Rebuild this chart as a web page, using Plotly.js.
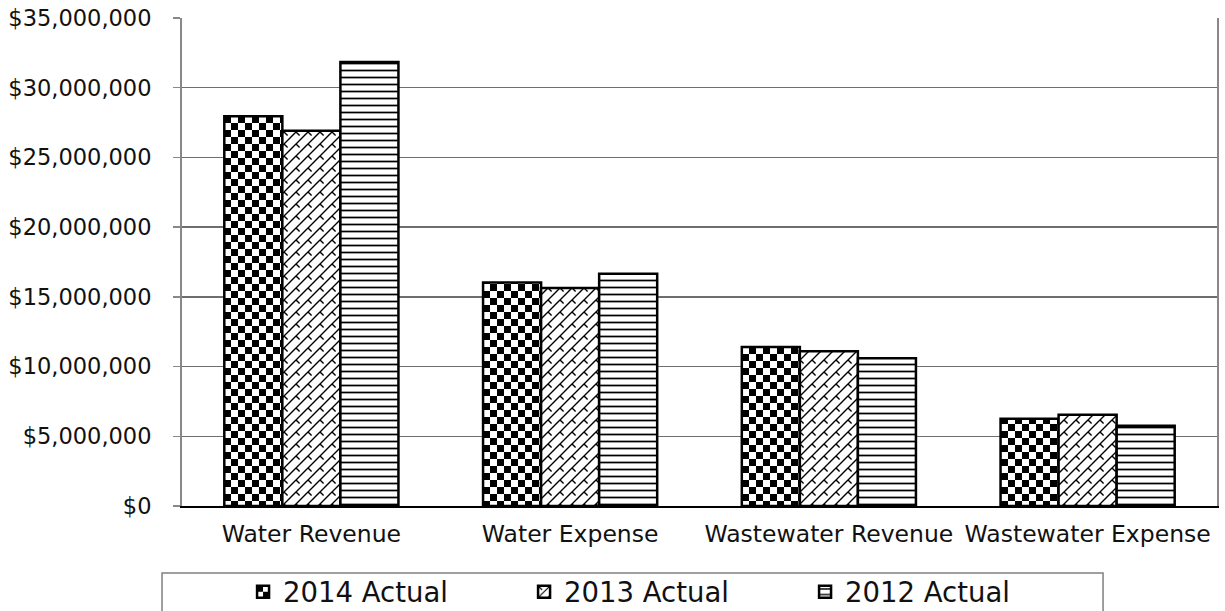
<!DOCTYPE html>
<html><head><meta charset="utf-8">
<script src="https://cdn.plot.ly/plotly-3.0.1.min.js"></script>
<style>html,body{margin:0;padding:0;background:#fff;} #chart{width:1225px;height:611px;}</style>
</head><body><div id="chart"></div>
<script>
const categories = ['Water Revenue', 'Water Expense', 'Wastewater Revenue', 'Wastewater Expense'];
const seriesNames = ['2014 Actual', '2013 Actual', '2012 Actual'];
const actual2014 = [27950000, 16030000, 11400000, 6250000];
const actual2013 = [26920000, 15630000, 11100000, 6550000];
const actual2012 = [31850000, 16650000, 10600000, 5750000];

const FONT = 'DejaVu Sans, Liberation Sans, Arial, sans-serif';
const outline = {color: '#000', width: 2.5};

const traces = [
  {type: 'bar', name: seriesNames[0], x: categories, y: actual2014,
   marker: {color: '#fff', line: outline,
            pattern: {shape: '.', fgcolor: '#000', bgcolor: '#fff', size: 14, solidity: 0.5, fillmode: 'replace'}}},
  {type: 'bar', name: seriesNames[1], x: categories, y: actual2013,
   marker: {color: '#fff', line: outline,
            pattern: {shape: '/', fgcolor: '#000', bgcolor: '#fff', size: 12, solidity: 0.11, fillmode: 'replace'}}},
  {type: 'bar', name: seriesNames[2], x: categories, y: actual2012,
   marker: {color: '#fff', line: outline,
            pattern: {shape: '-', fgcolor: '#000', bgcolor: '#fff', size: 7, solidity: 0.25, fillmode: 'replace'}}}
];

const layout = {
  width: 1225, height: 611,
  paper_bgcolor: '#fff', plot_bgcolor: '#fff',
  margin: {l: 182, r: 8, t: 18, b: 105, autoexpand: false},
  font: {family: FONT, color: '#111'},
  barmode: 'group', bargap: 0.327, bargroupgap: 0,
  showlegend: true,
  xaxis: {showline: true, linecolor: '#000', linewidth: 2, ticks: '', showgrid: false,
          ticklabelstandoff: 6,
          tickfont: {size: 23.5, family: FONT, color: '#111'}},
  yaxis: {range: [0, 35000000], tick0: 0, dtick: 5000000, tickprefix: '$', tickformat: ',.0f',
          showgrid: true, gridcolor: '#6e6e6e', gridwidth: 1.5,
          showline: true, linecolor: '#888', linewidth: 2, mirror: true,
          ticks: 'outside', ticklen: 7, tickcolor: '#888', tickwidth: 1.5,
          zeroline: false, ticklabelstandoff: 17,
          tickfont: {size: 22.5, family: FONT, color: '#111'}},
  legend: {orientation: 'h', x: 0.059, xanchor: 'left', y: -0.176, yanchor: 'middle',
           bgcolor: 'rgba(0,0,0,0)', borderwidth: 0, entrywidth: 236, entrywidthmode: 'pixels',
           font: {size: 27.5, family: FONT, color: '#111'}, traceorder: 'normal'},
  shapes: [{type: 'rect', xref: 'paper', yref: 'paper', x0: -0.0193, x1: 0.8899, y0: -0.1373, y1: -0.30,
            line: {color: '#808080', width: 1.5}, fillcolor: 'rgba(0,0,0,0)'}]
};

function restylePatterns(gd) {
  const svgNS = 'http://www.w3.org/2000/svg';
  const mk = (p, tag, attrs) => { const e = document.createElementNS(svgNS, tag);
    for (const k in attrs) e.setAttribute(k, attrs[k]); p.appendChild(e); return e; };
  gd.querySelectorAll('pattern').forEach(p => {
    const isDots = !!p.querySelector('circle');
    const path = p.querySelector('path');
    const d = path ? (path.getAttribute('d') || '') : '';
    if (isDots) {
      const s = 7;
      while (p.firstChild) p.removeChild(p.firstChild);
      p.setAttribute('width', 2 * s); p.setAttribute('height', 2 * s);
      mk(p, 'rect', {x: 0, y: 0, width: 2 * s, height: 2 * s, fill: '#fff'});
      mk(p, 'rect', {x: 0, y: 0, width: s, height: s, fill: '#000'});
      mk(p, 'rect', {x: s, y: s, width: s, height: s, fill: '#000'});
    } else if (path && /l[\d.]+,-[\d.]+/.test(d) && !/H|h/.test(d)) {
      // diagonal brick
      const T = 12;
      while (p.firstChild) p.removeChild(p.firstChild);
      p.setAttribute('width', T); p.setAttribute('height', T);
      mk(p, 'rect', {x: 0, y: 0, width: T, height: T, fill: '#fff'});
      mk(p, 'path', {d: `M-1,${T + 1}L${T + 1},-1M-1,1L1,-1M${T - 1},${T + 1}L${T + 1},${T - 1}M${T / 2},${T / 2}L${T * 0.8},${T * 0.8}`,
                     stroke: '#000', 'stroke-width': 1.4, fill: 'none'});
    }
  });
}

Plotly.newPlot('chart', traces, layout, {staticPlot: true, displayModeBar: false}).then(restylePatterns);
</script></body></html>
